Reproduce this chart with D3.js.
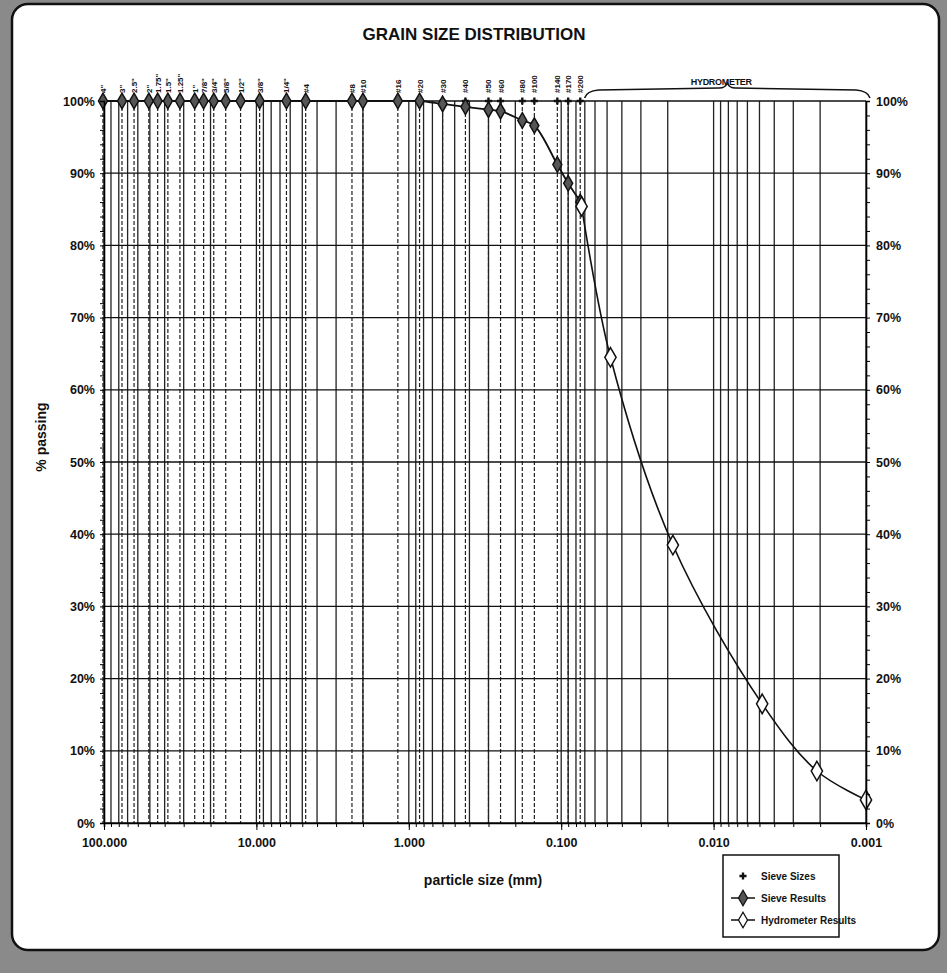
<!DOCTYPE html>
<html>
<head>
<meta charset="utf-8">
<script src="https://cdn.jsdelivr.net/npm/d3@7"></script>
<style>
  body { margin: 0; background: #fff; }
  svg text { font-family: Arial, "Liberation Sans", sans-serif; font-weight: bold; fill: #111; }
</style>
</head>
<body>
<div id="chart"></div>
<script>
// sieve openings (mm) and their labels
const sieveLabels = ['4"', '3"', '2.5"', '2"', '1.75"', '1.5"', '1.25"', '1"', '7/8"', '3/4"', '5/8"', '1/2"', '3/8"', '1/4"',
    '#4', '#8', '#10', '#16', '#20', '#30', '#40', '#50', '#60', '#80', '#100', '#140', '#170', '#200'];
const sieveSizes = [101.6, 76.2, 63.5, 50.8, 44.45, 38.1, 31.75, 25.4, 22.2, 19.05, 15.9, 12.7, 9.525, 6.35,
    4.75, 2.36, 2.0, 1.18, 0.85, 0.6, 0.425, 0.3, 0.25, 0.18, 0.15, 0.106, 0.09, 0.075];
const sievePassing = [100, 100, 100, 100, 100, 100, 100, 100, 100, 100, 100, 100, 100, 100,
    100, 100, 100, 100, 100, 99.6, 99.2, 98.8, 98.6, 97.3, 96.6, 91.2, 88.6, 86.0];

// hydrometer readings
const hydroSizes = [0.0735, 0.0475, 0.0185, 0.0048, 0.0021, 0.001];
const hydroPassing = [85.4, 64.5, 38.5, 16.5, 7.2, 3.2];

const xTicks = [100, 10, 1, 0.1, 0.01, 0.001];
const yTicks = [0, 10, 20, 30, 40, 50, 60, 70, 80, 90, 100];

const W = 947, H = 973;
const margin = {top: 101, right: 81, bottom: 150, left: 104};

const svg = d3.select("#chart").append("svg")
    .attr("width", W).attr("height", H);

// scanned page frame
svg.append("rect").attr("x", 0).attr("y", 0).attr("width", W).attr("height", H).attr("fill", "#8a8a8a");
svg.append("rect").attr("x", 12).attr("y", 4).attr("width", W - 20).attr("height", 946)
    .attr("rx", 16).attr("fill", "#fff").attr("stroke", "#111").attr("stroke-width", 2.5);

const x = d3.scaleLog().domain([100, 0.001]).range([margin.left, W - margin.right]);
const y = d3.scaleLinear().domain([0, 100]).range([H - margin.bottom, margin.top]);

const g = svg.append("g");

// minor / major vertical grid
const gridX = [];
for (let e = -3; e <= 1; e++) {
    for (let k = 1; k <= 9; k++) gridX.push(k * Math.pow(10, e));
}
gridX.push(100);
g.selectAll(".vgrid").data(gridX).enter().append("line")
    .attr("x1", d => x(d)).attr("x2", d => x(d))
    .attr("y1", y(100)).attr("y2", y(0))
    .attr("stroke", "#222").attr("stroke-width", 1.3);

// sieve drop lines
g.selectAll(".sgrid").data(sieveSizes).enter().append("line")
    .attr("x1", d => x(d)).attr("x2", d => x(d))
    .attr("y1", y(100)).attr("y2", y(0))
    .attr("stroke", "#222").attr("stroke-width", 1.2)
    .attr("stroke-dasharray", "4,2");

// horizontal grid
g.selectAll(".hgrid").data(yTicks).enter().append("line")
    .attr("x1", x(100)).attr("x2", x(0.001))
    .attr("y1", d => y(d)).attr("y2", d => y(d))
    .attr("stroke", "#111").attr("stroke-width", 1.3);

// axes
const yMinor = d3.range(0, 101, 2);
svg.append("g")
    .attr("transform", `translate(${x(100)},0)`)
    .call(d3.axisLeft(y).tickValues(yMinor).tickSize(4).tickFormat(""))
    .call(a => a.select(".domain").attr("stroke-width", 1.6));
svg.append("g")
    .attr("transform", `translate(${x(0.001)},0)`)
    .call(d3.axisRight(y).tickValues(yMinor).tickSize(4).tickFormat(""))
    .call(a => a.select(".domain").attr("stroke-width", 1.6));
svg.append("g")
    .attr("transform", `translate(0,${y(0)})`)
    .call(d3.axisBottom(x).tickValues(gridX).tickSize(4).tickFormat(""))
    .call(a => a.select(".domain").attr("stroke-width", 1.6));
svg.append("g")
    .attr("transform", `translate(0,${y(0)})`)
    .call(d3.axisBottom(x).tickValues(xTicks).tickSize(7).tickFormat(d3.format(".3f")))
    .call(a => a.select(".domain").remove())
    .call(a => a.selectAll("text").attr("dy", "1.1em").style("font-size", "12.5px").style("font-family", "Arial, 'Liberation Sans', sans-serif"));

// y tick labels
const pct = d => d + "%";
svg.selectAll(".ylabL").data(yTicks).enter().append("text")
    .attr("x", x(100) - 9).attr("y", d => y(d) + 4.5)
    .attr("text-anchor", "end").style("font-size", "12.5px").text(pct);
svg.selectAll(".ylabR").data(yTicks).enter().append("text")
    .attr("x", x(0.001) + 10).attr("y", d => y(d) + 4.5)
    .attr("text-anchor", "start").style("font-size", "12.5px").text(pct);

// sieve labels on top
svg.selectAll(".slab").data(sieveSizes).enter().append("text")
    .attr("transform", d => `translate(${x(d) + 3},${y(100) - 8}) rotate(-90)`)
    .attr("text-anchor", "start").style("font-size", "8px")
    .text((d, i) => sieveLabels[i]);

// hydrometer brace
const bx0 = x(0.0735) + 3, bx1 = x(0.001) + 4, bm = (bx0 + bx1) / 2, by = y(100) - 3;
svg.append("path")
    .attr("d", `M${bx0},${by} Q${bx0 + 2},${by - 7} ${bx0 + 14},${by - 8} L${bm - 8},${by - 10} Q${bm - 2},${by - 10} ${bm},${by - 15}
                Q${bm + 2},${by - 10} ${bm + 8},${by - 10} L${bx1 - 14},${by - 8} Q${bx1 - 2},${by - 7} ${bx1},${by}`)
    .attr("fill", "none").attr("stroke", "#111").attr("stroke-width", 1.5);
svg.append("text").attr("x", bm - 6).attr("y", 85).attr("text-anchor", "middle")
    .style("font-size", "9px").style("letter-spacing", "-0.3px").text("HYDROMETER");

// data
const sieveData = sieveSizes.map((d, i) => ({size: d, pass: sievePassing[i]}));
const hydroData = hydroSizes.map((d, i) => ({size: d, pass: hydroPassing[i]}));

const line = d3.line()
    .x(d => x(d.size)).y(d => y(d.pass))
    .curve(d3.curveCatmullRom.alpha(0.5));

g.append("path").datum(sieveData.concat(hydroData.slice(0, 1)))
    .attr("d", line).attr("fill", "none").attr("stroke", "#111").attr("stroke-width", 1.8);
g.append("path").datum(hydroData)
    .attr("d", line).attr("fill", "none").attr("stroke", "#111").attr("stroke-width", 1.6);

const diamond = d3.symbol().type(d3.symbolDiamond).size(70);
const plus = d3.symbol().type(d3.symbolCross).size(28);

// sieve size markers
g.selectAll(".ss").data(sieveSizes).enter().append("path")
    .attr("d", plus).attr("transform", d => `translate(${x(d)},${y(100)})`).attr("fill", "#111");

g.selectAll(".sr").data(sieveData).enter().append("path")
    .attr("d", diamond).attr("transform", d => `translate(${x(d.size)},${y(d.pass)})`)
    .attr("fill", "#555").attr("stroke", "#111").attr("stroke-width", 1.5);

g.selectAll(".hr").data(hydroData).enter().append("path")
    .attr("d", d3.symbol().type(d3.symbolDiamond).size(110))
    .attr("transform", d => `translate(${x(d.size)},${y(d.pass)})`)
    .attr("fill", "#fff").attr("stroke", "#111").attr("stroke-width", 1.5);

// titles
svg.append("text").attr("x", 474).attr("y", 40).attr("text-anchor", "middle")
    .style("font-size", "17px").text("GRAIN SIZE DISTRIBUTION");
svg.append("text").attr("transform", "translate(46,437) rotate(-90)").attr("text-anchor", "middle")
    .style("font-size", "14px").text("% passing");
svg.append("text").attr("x", 483).attr("y", 885).attr("text-anchor", "middle")
    .style("font-size", "14px").text("particle size (mm)");

// legend
const lg = svg.append("g").attr("transform", "translate(723,855)");
lg.append("rect").attr("width", 116).attr("height", 82).attr("fill", "#fff").attr("stroke", "#111").attr("stroke-width", 1.5);
const legendItems = ["Sieve Sizes", "Sieve Results", "Hydrometer Results"];
legendItems.forEach((name, i) => {
    const ly = 21 + i * 22;
    if (i > 0) lg.append("line").attr("x1", 8).attr("x2", 32).attr("y1", ly).attr("y2", ly).attr("stroke", "#111").attr("stroke-width", 1.5);
    lg.append("path").attr("d", i === 0 ? plus : diamond).attr("transform", `translate(20,${ly})`)
        .attr("fill", i === 2 ? "#fff" : (i === 1 ? "#555" : "#111")).attr("stroke", i === 0 ? "none" : "#111").attr("stroke-width", 1.3);
    lg.append("text").attr("x", 38).attr("y", ly + 4).style("font-size", "10px").text(name);
});
</script>
</body>
</html>
